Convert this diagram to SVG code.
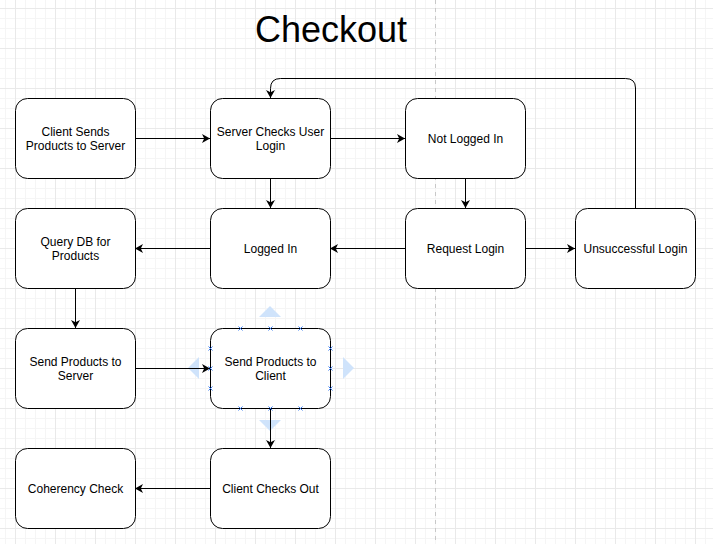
<svg xmlns="http://www.w3.org/2000/svg" width="713" height="544" viewBox="0 0 713 544">
<defs>
<pattern id="minor" x="5" y="8" width="10" height="10" patternUnits="userSpaceOnUse">
<path d="M0,0.5 H10 M0.5,0 V10" fill="none" stroke="#f5f5f5" stroke-width="1"/>
</pattern>
<pattern id="major" x="15" y="8" width="40" height="40" patternUnits="userSpaceOnUse">
<path d="M0,0.5 H40 M0.5,0 V40" fill="none" stroke="#e9e9e9" stroke-width="1"/>
</pattern>
<marker id="arr" markerUnits="userSpaceOnUse" markerWidth="10" markerHeight="10" refX="8" refY="4.5" orient="auto">
<path d="M0,0 L8,4.5 L0,9 L2.2,4.5 Z" fill="#000"/>
</marker>
<path id="xm" d="M-2,-2 L2,2 M-2,2 L2,-2"/>
</defs>
<style>
.node rect{fill:#fff;stroke:#000;stroke-width:1}
.node text{font-family:"Liberation Sans",Arial,Helvetica,sans-serif;font-size:12px;fill:#000;text-anchor:middle}
#connectors path{fill:none;stroke:#000;stroke-width:1;marker-end:url(#arr)}
.handle{fill:#cfe3fb}
.cp use{stroke:#3b7cf0;stroke-width:1}
</style>
<rect width="713" height="544" fill="#fff"/>
<rect width="713" height="544" fill="url(#minor)"/>
<rect width="713" height="544" fill="url(#major)"/>
<line x1="435.5" y1="0" x2="435.5" y2="544" stroke="#c8c8c8" stroke-width="1" stroke-dasharray="4 4"/>
<text x="331" y="42" font-family="'Liberation Sans',Arial,Helvetica,sans-serif" font-size="36" text-anchor="middle" fill="#000">Checkout</text>

<g id="selection-handles">
<polygon class="handle" points="270,306 281,317 259,317"/>
<polygon class="handle" points="259,420 281,420 270,431"/>
<polygon class="handle" points="188,368 199,357 199,379"/>
<polygon class="handle" points="354,368 343,357 343,379"/>
</g>

<g id="connectors">
<path d="M135,138.5 H210"/>
<path d="M330,138.5 H405"/>
<path d="M270.5,178 V208"/>
<path d="M465.5,178 V208"/>
<path d="M405,248.5 H330"/>
<path d="M210,248.5 H135"/>
<path d="M525,248.5 H575"/>
<path d="M635.5,208 V88 Q635.5,78.5 625.5,78.5 H280.5 Q270.5,78.5 270.5,88.5 V98"/>
<path d="M75.5,288 V328"/>
<path d="M135,368.5 H210"/>
<path d="M270.5,408 V448"/>
<path d="M210,488.5 H135"/>
</g>

<g id="n1" class="node"><rect x="15.5" y="98.5" width="120" height="80" rx="12"/><text x="75.5" y="136">Client Sends</text><text x="75.5" y="150">Products to Server</text></g>
<g id="n2" class="node"><rect x="210.5" y="98.5" width="120" height="80" rx="12"/><text x="270.5" y="136">Server Checks User</text><text x="270.5" y="150">Login</text></g>
<g id="n3" class="node"><rect x="405.5" y="98.5" width="120" height="80" rx="12"/><text x="465.5" y="143">Not Logged In</text></g>
<g id="n4" class="node"><rect x="15.5" y="208.5" width="120" height="80" rx="12"/><text x="75.5" y="246">Query DB for</text><text x="75.5" y="260">Products</text></g>
<g id="n5" class="node"><rect x="210.5" y="208.5" width="120" height="80" rx="12"/><text x="270.5" y="253">Logged In</text></g>
<g id="n6" class="node"><rect x="405.5" y="208.5" width="120" height="80" rx="12"/><text x="465.5" y="253">Request Login</text></g>
<g id="n7" class="node"><rect x="575.5" y="208.5" width="120" height="80" rx="12"/><text x="635.5" y="253">Unsuccessful Login</text></g>
<g id="n8" class="node"><rect x="15.5" y="328.5" width="120" height="80" rx="12"/><text x="75.5" y="366">Send Products to</text><text x="75.5" y="380">Server</text></g>
<g id="n9" class="node"><rect x="210.5" y="328.5" width="120" height="80" rx="12"/><text x="270.5" y="366">Send Products to</text><text x="270.5" y="380">Client</text></g>
<g id="n10" class="node"><rect x="15.5" y="448.5" width="120" height="80" rx="12"/><text x="75.5" y="493">Coherency Check</text></g>
<g id="n11" class="node"><rect x="210.5" y="448.5" width="120" height="80" rx="12"/><text x="270.5" y="493">Client Checks Out</text></g>

<g id="connection-points" class="cp">
<use href="#xm" x="240.5" y="328.5"/><use href="#xm" x="270.5" y="328.5"/><use href="#xm" x="300.5" y="328.5"/>
<use href="#xm" x="240.5" y="408.5"/><use href="#xm" x="270.5" y="408.5"/><use href="#xm" x="300.5" y="408.5"/>
<use href="#xm" x="210.5" y="348.5"/><use href="#xm" x="210.5" y="368.5"/><use href="#xm" x="210.5" y="388.5"/>
<use href="#xm" x="330.5" y="348.5"/><use href="#xm" x="330.5" y="368.5"/><use href="#xm" x="330.5" y="388.5"/>
</g>
</svg>
